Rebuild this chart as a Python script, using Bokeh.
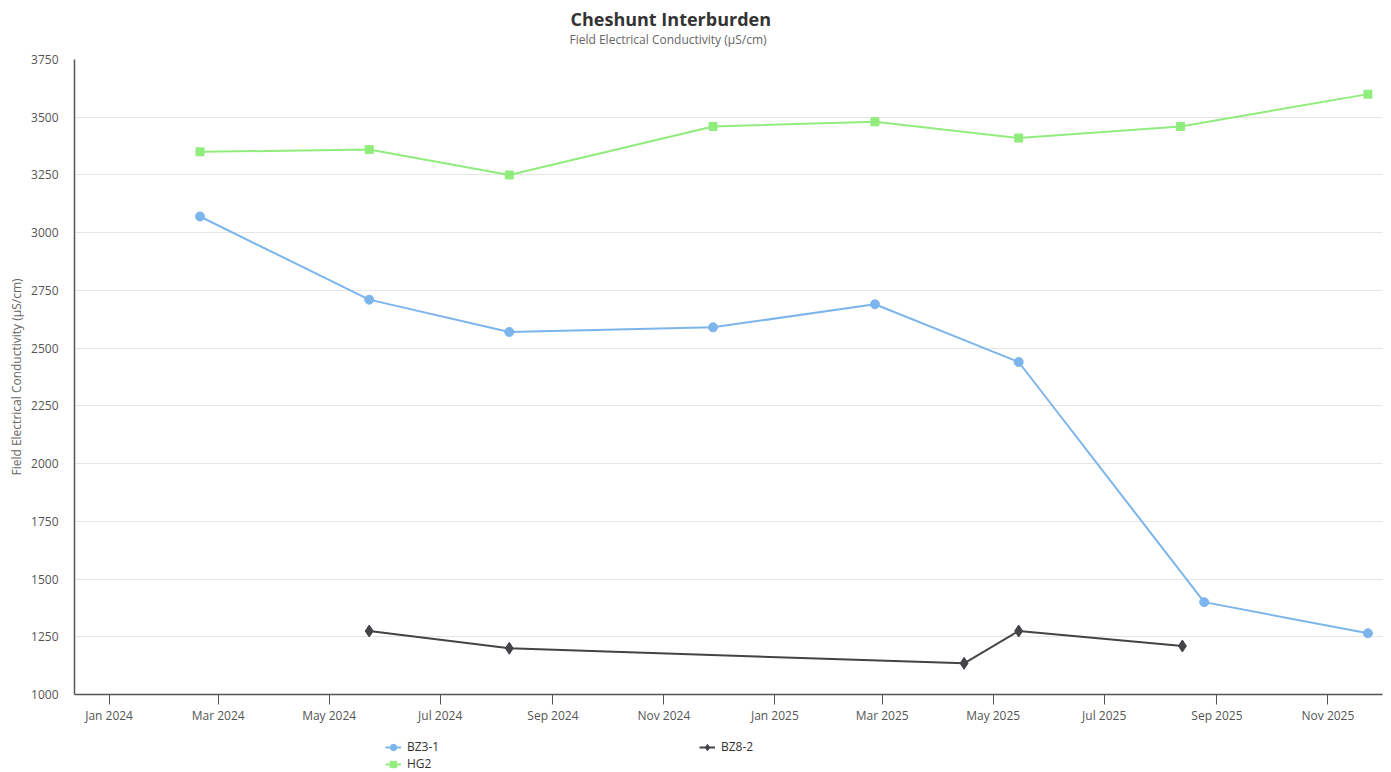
import datetime as dt
from bokeh.plotting import figure
from bokeh.layouts import column
from bokeh.models import (Title, Legend, LegendItem, FixedTicker, DatetimeTickFormatter,
                          Range1d, ColumnDataSource)
from bokeh.embed import file_html
from bokeh.resources import INLINE

# ---------------- data ----------------
bz3_1_dates = ["2024-02-20", "2024-05-23", "2024-08-08", "2024-11-28", "2025-02-25",
               "2025-05-15", "2025-08-25", "2025-11-23"]
bz3_1_values = [3070, 2710, 2570, 2590, 2690, 2440, 1400, 1265]

bz8_2_dates = ["2024-05-23", "2024-08-08", "2025-04-15", "2025-05-15", "2025-08-13"]
bz8_2_values = [1275, 1200, 1135, 1275, 1210]

hg2_dates = ["2024-02-20", "2024-05-23", "2024-08-08", "2024-11-28", "2025-02-25",
             "2025-05-15", "2025-08-12", "2025-11-23"]
hg2_values = [3350, 3360, 3250, 3460, 3480, 3410, 3460, 3600]

x_tick_dates = ["2024-01-01", "2024-03-01", "2024-05-01", "2024-07-01", "2024-09-01",
                "2024-11-01", "2025-01-01", "2025-03-01", "2025-05-01", "2025-07-01",
                "2025-09-01", "2025-11-01"]
y_ticks = [1000, 1250, 1500, 1750, 2000, 2250, 2500, 2750, 3000, 3250, 3500, 3750]

title_text = "Cheshunt Interburden"
subtitle_text = "Field Electrical Conductivity (µS/cm)"
y_label = "Field Electrical Conductivity (µS/cm)"
series_names = ["BZ3-1", "BZ8-2", "HG2"]


def to_dt(s):
    return dt.datetime.strptime(s, "%Y-%m-%d")


def to_ms(s):
    return (to_dt(s) - dt.datetime(1970, 1, 1)).total_seconds() * 1000.0


FONT = "Open Sans"
c_blue, c_dark, c_green = "#7cb5ec", "#434348", "#90ed7d"

p = figure(width=1391, height=726, x_axis_type="datetime",
           output_backend="svg", toolbar_location=None,
           x_range=Range1d(to_dt("2023-12-13"), to_dt("2025-12-01")),
           y_range=Range1d(1000, 3750),
           min_border_left=74, min_border_right=9, min_border_top=59, min_border_bottom=32)
p.outline_line_color = None
p.background_fill_color = "white"
p.border_fill_color = "white"

# titles
p.add_layout(Title(text=subtitle_text, text_font=FONT, text_font_size="12px",
                   text_font_style="normal", text_color="#666666",
                   align="left", offset=495, vertical_align="top", standoff=19), "above")
p.add_layout(Title(text=title_text, text_font=FONT, text_font_size="18px",
                   text_font_style="bold", text_color="#333333",
                   align="left", offset=496, vertical_align="bottom", standoff=-19), "above")

# series
s1 = ColumnDataSource(dict(x=[to_dt(d) for d in bz3_1_dates], y=bz3_1_values))
s2 = ColumnDataSource(dict(x=[to_dt(d) for d in bz8_2_dates], y=bz8_2_values))
s3 = ColumnDataSource(dict(x=[to_dt(d) for d in hg2_dates], y=hg2_values))

p.line("x", "y", source=s1, color=c_blue, line_width=2)
p.scatter("x", "y", source=s1, marker="circle", size=9, color=c_blue)
p.line("x", "y", source=s2, color=c_dark, line_width=2)
p.scatter("x", "y", source=s2, marker="diamond", size=12, color=c_dark)
p.line("x", "y", source=s3, color=c_green, line_width=2)
p.scatter("x", "y", source=s3, marker="square", size=8, color=c_green)

# axes
p.xaxis.ticker = FixedTicker(ticks=[to_ms(d) for d in x_tick_dates])
p.xaxis.formatter = DatetimeTickFormatter(months="%b %Y", days="%b %Y", years="%b %Y")
p.yaxis.ticker = FixedTicker(ticks=y_ticks)
for ax in (p.xaxis[0], p.yaxis[0]):
    ax.axis_line_color = "#555555"
    ax.axis_line_width = 1.5
    ax.major_label_text_font = FONT
    ax.major_label_text_font_size = "12px"
    ax.major_label_text_color = "#555555"
    ax.minor_tick_line_color = None
p.xaxis.major_tick_line_color = "#555555"
p.xaxis.major_tick_out = 10
p.xaxis.major_tick_in = 0
p.xaxis.major_label_standoff = 2
p.yaxis.major_tick_line_color = None
p.yaxis.major_label_standoff = 10
p.yaxis.axis_label = y_label
p.yaxis.axis_label_text_font = FONT
p.yaxis.axis_label_text_font_size = "12px"
p.yaxis.axis_label_text_font_style = "normal"
p.yaxis.axis_label_text_color = "#666666"
p.yaxis.axis_label_standoff = 3

p.xgrid.grid_line_color = None
p.ygrid.grid_line_color = "#e6e6e6"
p.ygrid.grid_line_width = 1

# ---------------- legend strip (separate small figure below) ----------------
# The same series sources are drawn here outside the visible range, so only
# their legend glyphs show.
lg = figure(width=1391, height=46, output_backend="svg", toolbar_location=None,
            x_axis_location=None, y_axis_location=None,
            x_range=Range1d(0, 1), y_range=Range1d(0, 1),
            min_border_left=0, min_border_right=0, min_border_top=0, min_border_bottom=0)
lg.outline_line_color = None
lg.xgrid.visible = False
lg.ygrid.visible = False
lg.background_fill_color = "white"
lg.border_fill_color = "white"

d1l = lg.line("x", "y", source=s1, color=c_blue, line_width=2)
d1m = lg.scatter("x", "y", source=s1, marker="circle", size=9, color=c_blue)
d2l = lg.line("x", "y", source=s2, color=c_dark, line_width=2)
d2m = lg.scatter("x", "y", source=s2, marker="diamond", size=12, color=c_dark)
d3l = lg.line("x", "y", source=s3, color=c_green, line_width=2)
d3m = lg.scatter("x", "y", source=s3, marker="square", size=8, color=c_green)

legend = Legend(items=[LegendItem(label=series_names[0], renderers=[d1l, d1m]),
                       LegendItem(label=series_names[1], renderers=[d2l, d2m]),
                       LegendItem(label=series_names[2], renderers=[d3l, d3m])],
                location=(311, 0), orientation="horizontal", ncols=2,
                padding=0, margin=0, spacing=0, border_line_color=None,
                background_fill_alpha=0, glyph_width=16, glyph_height=16,
                label_height=16, label_width=292, label_standoff=6,
                label_text_font=FONT, label_text_font_size="12px",
                label_text_color="#333333")
lg.add_layout(legend, "center")

layout = column(p, lg, spacing=0)
open("out.html", "w").write(file_html(layout, INLINE))
